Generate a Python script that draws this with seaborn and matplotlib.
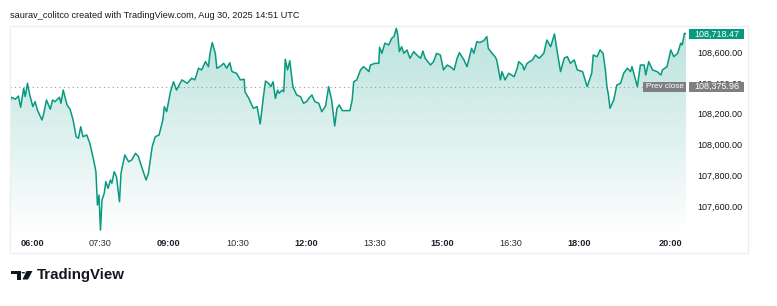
import matplotlib
matplotlib.use("Agg")
import matplotlib.pyplot as plt
import matplotlib.transforms as mtransforms
from matplotlib.patches import Rectangle, Circle, Polygon
import numpy as np
import pandas as pd
import seaborn as sns

# ---------------- data ----------------
times = ["05:31","05:33","05:38","05:42","05:45","05:49","05:51","05:54","05:57","06:01",
         "06:04","06:07","06:13","06:15","06:19","06:24","06:27","06:30","06:36","06:38",
         "06:41","06:46","06:50","06:54","06:58","07:01","07:04","07:07","07:12","07:16",
         "07:21","07:24","07:26","07:28","07:30","07:32","07:35","07:37","07:40","07:43",
         "07:45","07:48","07:51","07:55","07:57","08:02","08:07","08:11","08:16","08:20",
         "08:24","08:30","08:33","08:38","08:42","08:47","08:52","08:54","08:57","09:02",
         "09:06","09:10","09:17","09:24","09:30","09:34","09:39","09:43","09:48","09:52",
         "09:54","09:57","10:01","10:03","10:07","10:12","10:16","10:20","10:23","10:29",
         "10:34","10:39","10:40","10:45","10:49","10:51","10:56","11:00","11:04","11:07",
         "11:11","11:14","11:17","11:20","11:23","11:25","11:29","11:31","11:33","11:36",
         "11:39","11:43","11:48","11:53","11:57","12:01","12:04","12:08","12:12","12:17",
         "12:21","12:26","12:30","12:34","12:38","12:41","12:44","12:48","12:58","13:01",
         "13:03","13:07","13:12","13:16","13:20","13:23","13:25","13:31","13:36","13:37",
         "13:40","13:44","13:49","13:53","13:56","13:59","14:01","14:03","14:06","14:09",
         "14:13","14:17","14:22","14:26","14:31","14:34","14:37","14:44","14:48","14:52",
         "14:57","15:01","15:06","15:10","15:15","15:19","15:22","15:28","15:32","15:38",
         "15:41","15:45","15:49","15:54","15:58","16:00","16:05","16:09","16:11","16:16",
         "16:18","16:22","16:27","16:34","16:38","16:40","16:45","16:47","16:51","16:58",
         "17:02","17:07","17:13","17:17","17:22","17:27","17:31","17:35","17:40","17:44",
         "17:48","17:53","17:57","18:04","18:10","18:16","18:18","18:23","18:27","18:31",
         "18:34","18:36","18:38","18:40","18:45","18:49","18:54","18:58","19:03","19:07",
         "19:09","19:16","19:20","19:25","19:27","19:31","19:36","19:42","19:47","19:49",
         "19:55","20:00","20:04","20:09","20:13","20:15","20:18","20:20"]

prices = [108278,108307,108294,108315,108242,108365,108311,108398,108322,108246,
          108278,108224,108159,108192,108289,108229,108289,108278,108307,108268,
          108354,108257,108229,108159,108050,108040,108115,108050,108061,108007,
          107898,107822,107605,107670,107442,107638,107683,107757,107714,107768,
          107747,107822,107790,107627,107812,107931,107887,107898,107942,107920,
          107855,107768,107812,107985,108050,108061,108159,108246,108213,108343,
          108408,108354,108420,108398,108431,108420,108496,108485,108539,108506,
          108593,108663,108593,108496,108506,108528,108496,108532,108474,108463,
          108420,108424,108343,108300,108257,108235,108246,108133,108300,108413,
          108398,108376,108408,108300,108354,108333,108354,108343,108554,108485,
          108545,108376,108322,108311,108268,108278,108300,108322,108278,108268,
          108213,108250,108376,108289,108120,108235,108257,108220,108220,108289,
          108408,108420,108485,108506,108489,108474,108517,108528,108528,108633,
          108593,108659,108648,108691,108702,108756,108713,108604,108636,108593,
          108615,108561,108604,108582,108561,108608,108561,108517,108539,108593,
          108582,108485,108517,108506,108485,108561,108597,108550,108506,108626,
          108593,108669,108663,108676,108702,108626,108593,108571,108550,108420,
          108474,108420,108463,108441,108496,108539,108517,108485,108528,108550,
          108582,108561,108593,108680,108636,108719,108593,108474,108563,108571,
          108528,108550,108485,108474,108376,108463,108582,108571,108615,108593,
          108485,108376,108322,108235,108289,108387,108398,108463,108496,108474,
          108506,108376,108517,108517,108452,108539,108485,108474,108452,108485,
          108506,108615,108571,108593,108659,108648,108724,108718.47]

prev_close = 108375.96
last_price = 108718.47
tick_times = ["06:00","07:30","09:00","10:30","12:00","13:30","15:00","16:30","18:00","20:00"]
price_ticks = [107600, 107800, 108000, 108200, 108400, 108600]
title_text = "saurav_colitco created with TradingView.com, Aug 30, 2025 14:51 UTC"
brand_text = "TradingView"

# ---------------- helpers ----------------
def to_hours(s):
    h, m = s.split(":")
    return int(h) + int(m) / 60.0

W, H = 777, 306
def fx(px):
    return px / W
def fy(py):
    return 1 - py / H

df = pd.DataFrame({"t": [to_hours(t) for t in times], "price": prices})

sns.set_style("white")
plt.rcParams["font.family"] = ["Liberation Sans", "DejaVu Sans"]

fig = plt.figure(figsize=(W / 100, H / 100), dpi=100)
fig.patch.set_facecolor("white")

# panel border
fig.add_artist(Rectangle((fx(10), fy(253)), fx(748) - fx(10), fy(26) - fy(253),
                         transform=fig.transFigure, fill=False,
                         edgecolor="#eceef2", linewidth=0.9))

ax = fig.add_axes([fx(10), fy(233), fx(686) - fx(10), fy(26) - fy(233)])
ax.set_facecolor("none")

GREEN = "#089981"
ymin, ymax = 107423, 108771
x0, x1 = df["t"].iloc[0], df["t"].iloc[-1]

# gradient fill under the line
fill_bottom = 107400
poly = ax.fill_between(df["t"], df["price"], fill_bottom, color="none", linewidth=0)
n = 256
grad = np.zeros((n, 1, 4))
grad[:, 0, 0] = 8 / 255
grad[:, 0, 1] = 153 / 255
grad[:, 0, 2] = 129 / 255
grad[:, 0, 3] = np.linspace(0.28, 0.0, n)
im = ax.imshow(grad, extent=(x0, x1, fill_bottom, ymax),
               origin="upper", aspect="auto", zorder=1, interpolation="bilinear")
im.set_clip_path(poly.get_paths()[0], ax.transData)

# previous close dotted line
x_prev_end = x0 + (643 - 10) / (686 - 10) * (x1 - x0)
ax.plot([x0, x_prev_end], [prev_close, prev_close], color="#9598a1",
        linestyle=(0, (1, 3)), linewidth=0.8, zorder=2)

# main line
sns.lineplot(data=df, x="t", y="price", ax=ax, color=GREEN, linewidth=1.1,
             estimator=None, sort=False, zorder=3)

ax.set_xlim(x0, x1)
ax.set_ylim(ymin, ymax)
for s in ax.spines.values():
    s.set_visible(False)
ax.set_xlabel("")
ax.set_ylabel("")

# x ticks
tick_pos = [to_hours(t) for t in tick_times]
ax.set_xticks(tick_pos)
ax.set_xticklabels(tick_times)
ax.tick_params(axis="x", length=0, pad=4, labelsize=6.6, colors="#131722")
for lbl, t in zip(ax.get_xticklabels(), tick_times):
    if t.endswith(":00"):
        lbl.set_fontweight("bold")
        lbl.set_color("#1e222d")
    else:
        lbl.set_color("#2a2e39")

# y ticks on right
ax.yaxis.tick_right()
ax.set_yticks(price_ticks)
ax.set_yticklabels([f"{v:,.2f}" for v in price_ticks])
ax.tick_params(axis="y", length=0, pad=8, labelsize=6.5, colors="#131722")

# price boxes
blend = mtransforms.blended_transform_factory(ax.transAxes, ax.transData)
units_per_px = (ymax - ymin) / (233 - 26)
box_h = 10 * units_per_px

def ax_frac(px):
    return (px - 10) / (686 - 10)

def price_box(x0px, x1px, yval, color, text, fs=6.5):
    r = Rectangle((ax_frac(x0px), yval - box_h / 2), ax_frac(x1px) - ax_frac(x0px), box_h,
                  transform=blend, facecolor=color, edgecolor="none", clip_on=False, zorder=5)
    ax.add_patch(r)
    ax.text((ax_frac(x0px) + ax_frac(x1px)) / 2, yval, text, transform=blend,
            ha="center", va="center", color="white", fontsize=fs, clip_on=False, zorder=6)

price_box(689, 744, last_price, GREEN, f"{last_price:,.2f}")
price_box(643, 686, prev_close, "#7f7f7f", "Prev close", fs=5.9)
price_box(689, 744, prev_close, "#7f7f7f", f"{prev_close:,.2f}")

# header text
fig.text(fx(10), fy(16), title_text, ha="left", va="center", fontsize=6.6, color="#131722")

# TradingView logo (shapes) and brand text
logo_col = "#131722"
fig.add_artist(Rectangle((fx(11), fy(274)), fx(21) - fx(11), fy(271) - fy(274),
                         transform=fig.transFigure, color=logo_col, linewidth=0))
fig.add_artist(Rectangle((fx(17), fy(279.5)), fx(21) - fx(17), fy(271) - fy(279.5),
                         transform=fig.transFigure, color=logo_col, linewidth=0))
fig.add_artist(Polygon([(fx(26.5), fy(271)), (fx(32.5), fy(271)), (fx(28), fy(279.5)), (fx(22.5), fy(279.5))],
                       closed=True, transform=fig.transFigure, color=logo_col, linewidth=0))
fig.add_artist(Circle((fx(23.3), fy(272.7)), 1.8 / W, transform=fig.transFigure,
                      color=logo_col, linewidth=0))
fig.text(fx(36.5), fy(275.5), brand_text, ha="left", va="center", fontsize=10.8,
         fontweight="bold", color=logo_col)

fig.savefig("out.png", dpi=100, facecolor="white")
